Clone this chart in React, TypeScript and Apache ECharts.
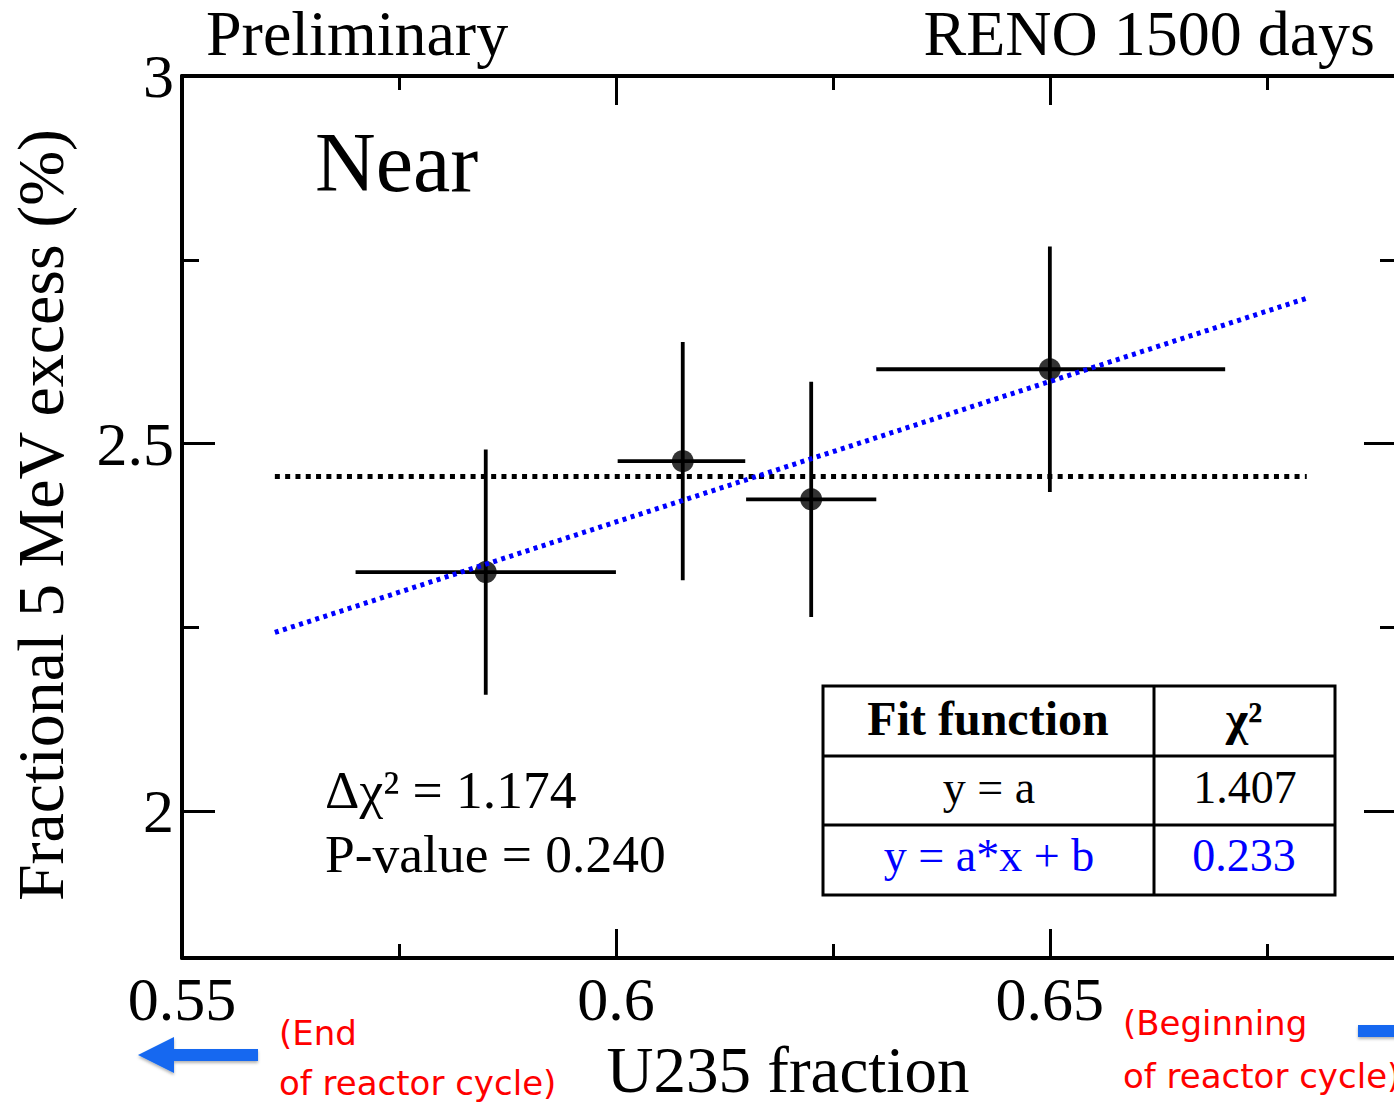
import React, { useEffect, useRef } from "react";
import * as echarts from "echarts";

// Axis ranges and tick positions
const xMin = 0.55;
const xMax = 0.69;
const yMin = 1.8;
const yMax = 3.0;
const xMajorTicks = [0.55, 0.6, 0.65];
const xMinorTicks = [0.575, 0.625, 0.675];
const yMajorTicks = [2, 2.5, 3];
const yMinorTicks = [2.25, 2.75];

// Measured points: U235 fraction bins and fractional 5 MeV excess
const u235 = [0.585, 0.6077, 0.6225, 0.65];
const u235Low = [0.57, 0.6002, 0.615, 0.63];
const u235High = [0.6, 0.6149, 0.63, 0.6702];
const excess = [2.325, 2.476, 2.424, 2.601];
const excessErr = [0.167, 0.162, 0.16, 0.167];

// Fit results
const fitRange = [0.5607, 0.6796];
const constFit = 2.455;
const linSlope = 3.825;
const linIntercept = 0.0982;

const SERIF = "'Liberation Serif', 'Times New Roman', serif";
const SANS = "'DejaVu Sans', sans-serif";
const ARROW_BLUE = "#1467f0";

function axisPair(dim: "x" | "y", pos: string, major: number[], minor: number[], showLabels: boolean, majorLen: number, minorLen: number) {
  const range = dim === "x" ? { min: xMin, max: xMax } : { min: yMin, max: yMax };
  const base = { type: "value", ...range, position: pos, splitLine: { show: false }, silent: true };
  const labelX = {
    show: showLabels,
    customValues: major,
    fontFamily: SERIF,
    fontSize: 62,
    lineHeight: 62,
    color: "#000",
    margin: 10,
    formatter: (v: number) => String(v),
  };
  const labelY = {
    show: showLabels,
    customValues: major,
    fontFamily: SERIF,
    fontSize: 62,
    color: "#000",
    margin: 8,
    padding: [10, 0, 0, 0],
    formatter: (v: number) => String(v),
  };
  return [
    {
      ...base,
      axisLine: { show: true, onZero: false, lineStyle: { color: "#000", width: 4 } },
      axisTick: { show: true, inside: true, length: majorLen, customValues: major, lineStyle: { color: "#000", width: 3 } },
      axisLabel: showLabels ? (dim === "x" ? labelX : labelY) : { show: false },
    },
    {
      ...base,
      axisLine: { show: false, onZero: false },
      axisTick: { show: true, inside: true, length: minorLen, customValues: minor, lineStyle: { color: "#000", width: 3 } },
      axisLabel: { show: false },
    },
  ];
}

export default function App() {
  const ref = useRef<HTMLDivElement>(null);

  useEffect(() => {
    if (!ref.current) return;
    const chart = echarts.init(ref.current, undefined, { renderer: "svg" });

    const points = u235.map((x, i) => [x, excess[i], u235Low[i], u235High[i], excess[i] - excessErr[i], excess[i] + excessErr[i]]);
    const constLine = fitRange.map((x) => [x, constFit]);
    const linLine = fitRange.map((x) => [x, linSlope * x + linIntercept]);

    const text = (t: string, x: number, y: number, fontSize: number, extra: any = {}) => ({
      type: "text",
      x,
      y,
      silent: true,
      z: 10,
      style: {
        text: t,
        fontFamily: SERIF,
        fontSize,
        lineHeight: Math.round(fontSize * 0.85),
        fill: "#000",
        align: "left",
        verticalAlign: "middle",
        ...extra,
      },
    });

    const tableLine = (x1: number, y1: number, x2: number, y2: number) => ({
      type: "line",
      silent: true,
      z: 10,
      shape: { x1, y1, x2, y2 },
      style: { stroke: "#000", lineWidth: 3 },
    });

    chart.setOption({
      animation: false,
      backgroundColor: "#fff",
      grid: { left: 182, right: 23, top: 76, bottom: 144, containLabel: false },
      xAxis: [
        ...axisPair("x", "bottom", xMajorTicks, xMinorTicks, true, 29, 14),
        ...axisPair("x", "top", xMajorTicks, xMinorTicks, false, 29, 14),
      ],
      yAxis: [
        ...axisPair("y", "left", yMajorTicks, yMinorTicks, true, 33, 17),
        ...axisPair("y", "right", yMajorTicks, yMinorTicks, false, 33, 17),
      ],
      series: [
        {
          type: "custom",
          xAxisIndex: 0,
          yAxisIndex: 0,
          data: points,
          encode: { x: [0, 2, 3], y: [1, 4, 5] },
          silent: true,
          renderItem: (params: any, api: any) => {
            const x = api.value(0);
            const y = api.value(1);
            const l = api.coord([api.value(2), y]);
            const r = api.coord([api.value(3), y]);
            const b = api.coord([x, api.value(4)]);
            const t = api.coord([x, api.value(5)]);
            const st = { stroke: "#000", lineWidth: 3.8 };
            return {
              type: "group",
              children: [
                { type: "line", shape: { x1: l[0], y1: l[1], x2: r[0], y2: r[1] }, style: st },
                { type: "line", shape: { x1: b[0], y1: b[1], x2: t[0], y2: t[1] }, style: st },
              ],
            };
          },
        },
        {
          type: "line",
          xAxisIndex: 0,
          yAxisIndex: 0,
          data: constLine,
          showSymbol: false,
          silent: true,
          lineStyle: { color: "#000", width: 5, type: [5, 5.3] },
        },
        {
          type: "scatter",
          xAxisIndex: 0,
          yAxisIndex: 0,
          data: u235.map((x, i) => [x, excess[i]]),
          symbol: "circle",
          symbolSize: 22,
          silent: true,
          itemStyle: { color: "#000" },
        },
        {
          type: "line",
          xAxisIndex: 0,
          yAxisIndex: 0,
          data: linLine,
          showSymbol: false,
          silent: true,
          lineStyle: { color: "#0000ff", width: 5, type: [4, 4.5] },
        },
      ],
      graphic: [
        text("Preliminary", 206, 33, 64),
        text("RENO 1500 days", 1375, 33, 64, { align: "right" }),
        text("Near", 315, 162, 84),
        text("Δχ² = 1.174", 325, 790, 53.5),
        text("P-value = 0.240", 325, 854, 53.5),
        {
          ...text("Fractional 5 MeV excess (%)", 40, 515, 66, { align: "center" }),
          rotation: Math.PI / 2,
        },
        text("U235 fraction", 788, 1070, 65, { align: "center" }),
        // fit summary table
        {
          type: "rect",
          silent: true,
          z: 10,
          shape: { x: 823, y: 686, width: 512, height: 209 },
          style: { fill: "#fff", stroke: "#000", lineWidth: 3 },
        },
        tableLine(823, 756, 1335, 756),
        tableLine(823, 825, 1335, 825),
        tableLine(1154, 686, 1154, 895),
        text("Fit function", 988, 718, 48, { align: "center", fontWeight: "bold" }),
        text("χ²", 1244, 718, 48, { align: "center", fontWeight: "bold" }),
        text("y = a", 989, 787, 46, { align: "center" }),
        text("1.407", 1245, 787, 46, { align: "center" }),
        text("y = a*x + b", 989, 855, 46, { align: "center", fill: "#0000ff" }),
        text("0.233", 1244, 855, 46, { align: "center", fill: "#0000ff" }),
        // reactor cycle direction notes
        text("(End", 279, 1033, 34, { fontFamily: SANS, fill: "#ff0000" }),
        text("of reactor cycle)", 279, 1083, 34, { fontFamily: SANS, fill: "#ff0000" }),
        text("(Beginning", 1123, 1023, 34, { fontFamily: SANS, fill: "#ff0000" }),
        text("of reactor cycle)", 1123, 1076, 34, { fontFamily: SANS, fill: "#ff0000" }),
        {
          type: "polygon",
          silent: true,
          z: 10,
          shape: {
            points: [
              [138, 1055],
              [174, 1037],
              [174, 1049],
              [258, 1049],
              [258, 1061],
              [174, 1061],
              [174, 1073],
            ],
          },
          style: { fill: ARROW_BLUE, shadowBlur: 3, shadowOffsetY: 2, shadowColor: "rgba(0,0,0,0.3)" },
        },
        {
          type: "rect",
          silent: true,
          z: 10,
          shape: { x: 1358, y: 1025, width: 80, height: 12 },
          style: { fill: ARROW_BLUE, shadowBlur: 3, shadowOffsetY: 2, shadowColor: "rgba(0,0,0,0.3)" },
        },
      ],
    });

    return () => chart.dispose();
  }, []);

  return (
    <div style={{ position: "fixed", left: 0, top: 0, width: 1394, height: 1102, overflow: "hidden", background: "#fff" }}>
      <div ref={ref} style={{ width: 1420, height: 1102 }} />
    </div>
  );
}
